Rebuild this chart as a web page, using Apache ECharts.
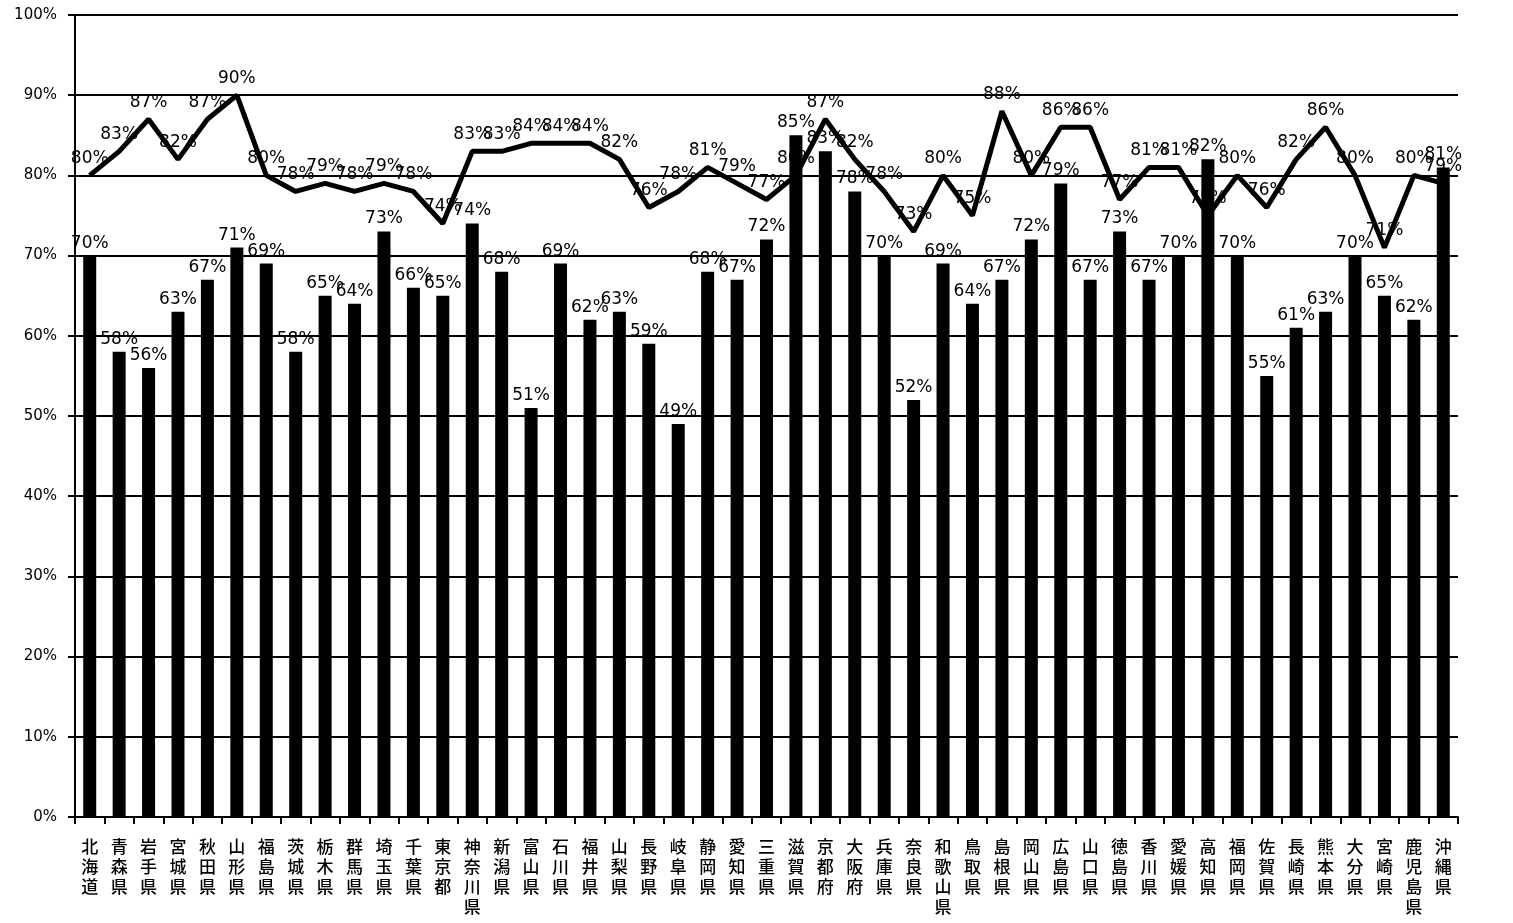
<!DOCTYPE html>
<html>
<head>
<meta charset="utf-8">
<script src="https://cdn.jsdelivr.net/npm/echarts@6/dist/echarts.min.js"></script>
<style>
html,body{margin:0;padding:0;background:#fff;}
#chart{width:1513px;height:923px;}
</style>
</head>
<body>
<div id="chart"></div>
<script>
const categories = ['北海道','青森県','岩手県','宮城県','秋田県','山形県','福島県','茨城県','栃木県','群馬県','埼玉県','千葉県','東京都','神奈川県','新潟県','富山県','石川県','福井県','山梨県','長野県','岐阜県','静岡県','愛知県','三重県','滋賀県','京都府','大阪府','兵庫県','奈良県','和歌山県','鳥取県','島根県','岡山県','広島県','山口県','徳島県','香川県','愛媛県','高知県','福岡県','佐賀県','長崎県','熊本県','大分県','宮崎県','鹿児島県','沖縄県'];
const barValues = [70,58,56,63,67,71,69,58,65,64,73,66,65,74,68,51,69,62,63,59,49,68,67,72,85,83,78,70,52,69,64,67,72,79,67,73,67,70,82,70,55,61,63,70,65,62,81];
const lineValues = [80,83,87,82,87,90,80,78,79,78,79,78,74,83,83,84,84,84,82,76,78,81,79,77,80,87,82,78,73,80,75,88,80,86,86,77,81,81,75,80,76,82,86,80,71,80,79];
const yTicks = {min:0, max:100, interval:10};

const chart = echarts.init(document.getElementById('chart'));
const numFont = 'DejaVu Sans';
chart.setOption({
  animation:false,
  backgroundColor:'#fff',
  grid:{left:75, right:55, top:15, bottom:106},
  xAxis:{
    type:'category',
    data:categories,
    boundaryGap:true,
    axisLine:{lineStyle:{color:'#000', width:2}},
    axisTick:{show:true, interval:0, length:7, lineStyle:{color:'#000', width:2}},
    axisLabel:{
      interval:0, margin:20, color:'#000', fontSize:17, lineHeight:20,
      fontFamily:'Noto Sans CJK JP', fontWeight:500,
      formatter:v=>v.split('').join('\n')
    }
  },
  yAxis:{
    type:'value', min:yTicks.min, max:yTicks.max, interval:yTicks.interval,
    axisLine:{show:true, lineStyle:{color:'#000', width:2}},
    axisTick:{show:true, length:7, lineStyle:{color:'#000', width:2}},
    axisLabel:{color:'#000', fontSize:15, margin:18, fontFamily:numFont, formatter:'{value}%'},
    splitLine:{show:true, lineStyle:{color:'#000', width:2}}
  },
  series:[
    {
      type:'bar', data:barValues, barWidth:13,
      itemStyle:{color:'#000'},
      label:{show:true, position:'top', distance:4, color:'#000', fontSize:17, fontFamily:numFont, formatter:'{c}%'},
      z:2
    },
    {
      type:'line', data:lineValues, symbol:'circle', symbolSize:1, showSymbol:true,
      itemStyle:{color:'#000'},
      lineStyle:{color:'#000', width:5},
      label:{show:true, position:'top', distance:8, color:'#000', fontSize:17, fontFamily:numFont, formatter:'{c}%'},
      z:3
    }
  ]
});
</script>
</body>
</html>
